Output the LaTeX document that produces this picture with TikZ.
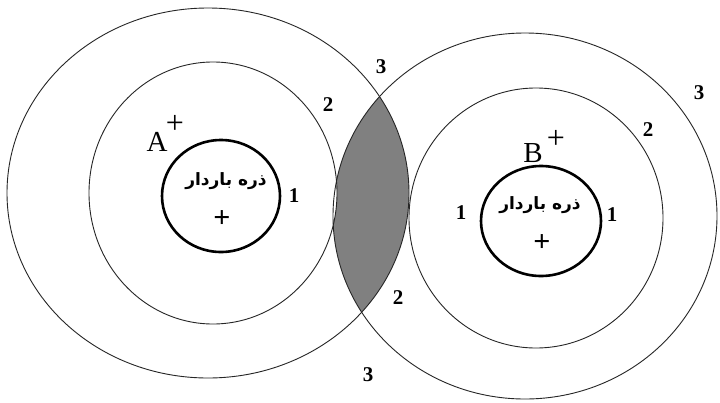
\documentclass[tikz,border=0pt]{standalone}
\usepackage{fontspec}
\setmainfont{Liberation Serif}
\newfontfamily\arabicfont[Script=Arabic]{DejaVu Sans}
\TeXXeTstate=1
\definecolor{lensgray}{RGB}{128,128,128}
\begin{document}
\begin{tikzpicture}[x=1pt,y=-1pt,
  thinring/.style={draw=black!85, line width=0.9pt},
  thickring/.style={draw=black, line width=2.6pt},
  num/.style={font=\fontsize{21}{21}\selectfont\bfseries, inner sep=0pt},
  letter/.style={font=\fontsize{29}{29}\selectfont, inner sep=0pt},
  plus/.style={font=\fontsize{32}{32}\selectfont, inner sep=0pt},
  bigplus/.style={font=\fontsize{30}{30}\selectfont\bfseries, inner sep=0pt},
  persian/.style={font=\fontsize{17}{18}\arabicfont\bfseries, inner sep=0pt}]
\useasboundingbox (0,0) rectangle (720,402);
\fill[white] (0,0) rectangle (720,402);
% shaded lens
\begin{scope}
  \clip (208,193) ellipse [x radius=201pt, y radius=185pt];
  \clip (525,216) ellipse [x radius=192pt, y radius=183pt];
  \fill[lensgray, even odd rule] (0,0) rectangle (720,402)
     (213,193) ellipse [x radius=124pt, y radius=131pt];
\end{scope}
% rings of A
\draw[thinring] (208,193) ellipse [x radius=201pt, y radius=185pt];
\draw[thinring] (213,193) ellipse [x radius=124pt, y radius=131pt];
\draw[thickring] (221,196) ellipse [x radius=59pt, y radius=56pt];
% rings of B
\draw[thinring] (525,216) ellipse [x radius=192pt, y radius=183pt];
\draw[thinring] (536,218) ellipse [x radius=127pt, y radius=130pt];
\draw[thickring] (541,221) ellipse [x radius=60pt, y radius=55pt];
% texts of A
\node[letter] (Alab) at (157,142) {A};
\node[plus] (Aplus) at (175,124) {+};
\node[persian] (Atxt) at (226,181) {\beginR ذره باردار\endR};
\node[bigplus] (Acharge) at (222,219) {+};
\node[num] (a1) at (294,196) {1};
\node[num] (a2) at (328,105) {2};
\node[num] (a3) at (381,67) {3};
% texts of B
\node[letter] (Blab) at (533,153) {B};
\node[plus] (Bplus) at (556,139) {+};
\node[persian] (Btxt) at (540,205) {\beginR ذره باردار\endR};
\node[bigplus] (Bcharge) at (542,243) {+};
\node[num] (b1l) at (461,213) {1};
\node[num] (b1r) at (612,215) {1};
\node[num] (b2) at (648,130) {2};
\node[num] (b3) at (699,93) {3};
% lower labels
\node[num] (c2) at (398,298) {2};
\node[num] (c3) at (368,375) {3};
\end{tikzpicture}
\end{document}
